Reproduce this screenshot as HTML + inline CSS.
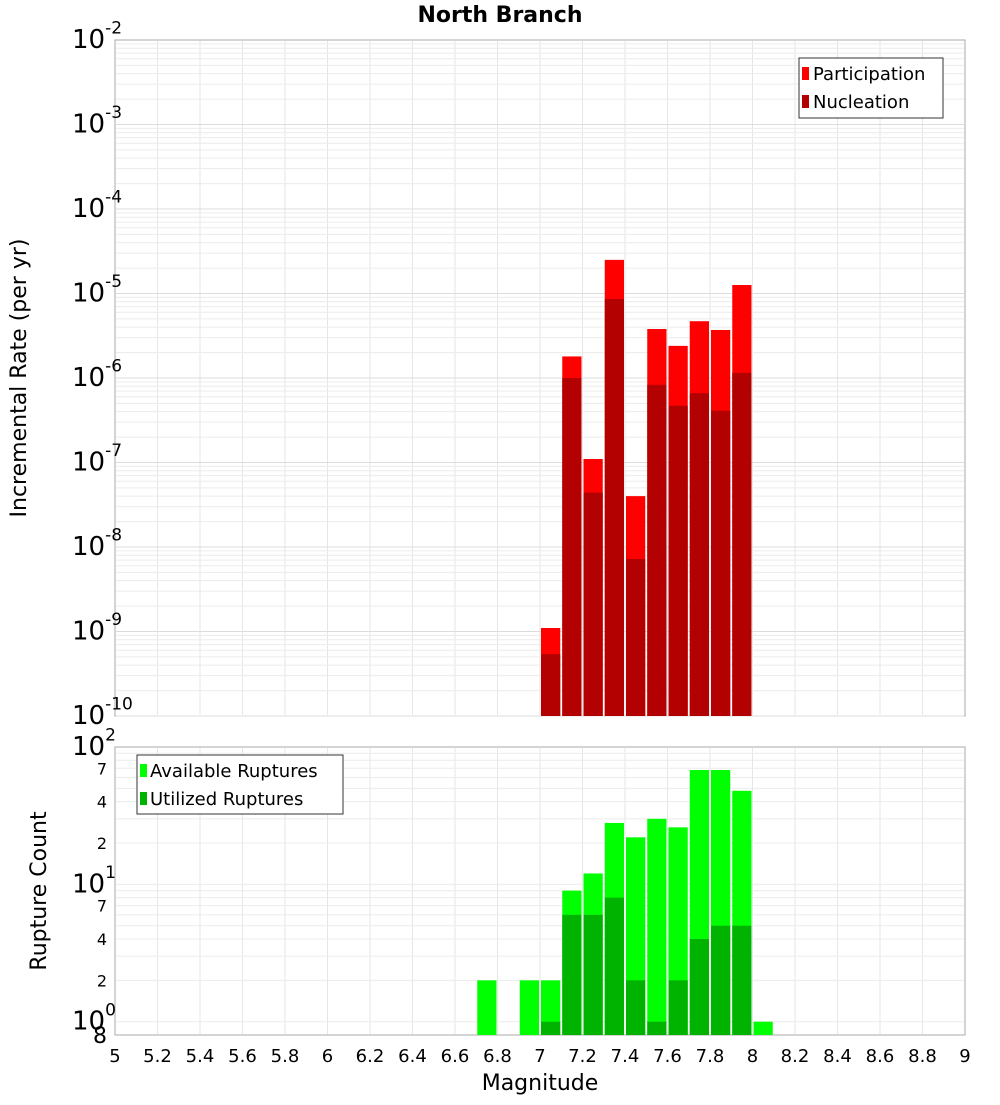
<!DOCTYPE html>
<html><head><meta charset="utf-8"><style>
body{margin:0;background:#fff;}
svg text{font-family:"DejaVu Sans","Liberation Sans",sans-serif;}
</style></head><body>
<svg id="c" width="1000" height="1100" xmlns="http://www.w3.org/2000/svg">
<text x="500" y="22" text-anchor="middle" font-size="22" font-weight="bold">North Branch</text>
<rect x="115" y="40" width="850" height="676" fill="#fff" stroke="#aaa"/>
<rect x="115" y="747" width="850" height="288" fill="#fff" stroke="#aaa"/>
<g id="grid"></g>
<g id="bars"></g>
<g id="axes"></g>
<text transform="translate(26,378) rotate(-90)" text-anchor="middle" font-size="22">Incremental Rate (per yr)</text>
<text transform="translate(46,891) rotate(-90)" text-anchor="middle" font-size="22">Rupture Count</text>
<text x="540" y="1090" text-anchor="middle" font-size="22">Magnitude</text>
<g>
<rect x="799" y="58" width="144" height="60" fill="#fff" stroke="#333"/>
<rect x="802" y="67" width="7" height="13" fill="#ff0000"/>
<text x="813" y="80" font-size="18">Participation</text>
<rect x="802" y="95" width="7" height="13" fill="#b30000"/>
<text x="813" y="108" font-size="18">Nucleation</text>
</g>
<g>
<rect x="137" y="755" width="206" height="59" fill="#fff" stroke="#333"/>
<rect x="140" y="764" width="7" height="13" fill="#00ff00"/>
<text x="150" y="777" font-size="18">Available Ruptures</text>
<rect x="140" y="792" width="7" height="13" fill="#00b300"/>
<text x="150" y="805" font-size="18">Utilized Ruptures</text>
</g>
</svg>
<script>
const mags=[6.75,6.95,7.05,7.15,7.25,7.35,7.45,7.55,7.65,7.75,7.85,7.95,8.05];
const participation=[0,0,1.1e-9,1.8e-6,1.1e-7,2.5e-5,4e-8,3.8e-6,2.4e-6,4.7e-6,3.7e-6,1.26e-5,0];
const nucleation=[0,0,5.4e-10,1.0e-6,4.4e-8,8.6e-6,7.2e-9,8.3e-7,4.7e-7,6.6e-7,4.1e-7,1.15e-6,0];
const available=[2,2,2,9,12,28,22,30,26,68,68,48,1];
const utilized=[0,0,1,6,6,8,2,1,2,4,5,5,0];
const xTicks=[5,5.2,5.4,5.6,5.8,6,6.2,6.4,6.6,6.8,7,7.2,7.4,7.6,7.8,8,8.2,8.4,8.6,8.8,9];
const binWidth=0.1;
const NS="http://www.w3.org/2000/svg";
const X=m=>115+(m-5)*850/4;
const Yt=v=>716-(Math.log10(v)+10)*676/8;
const Yb=v=>1035-(Math.log10(v)-Math.log10(0.8))*288/Math.log10(100/0.8);
function mk(p,tag,a){const e=document.createElementNS(NS,tag);for(const k in a)e.setAttribute(k,a[k]);document.getElementById(p).appendChild(e);return e;}
// grid
for(let m=5.2;m<8.95;m+=0.2){
 let l=mk('grid','line',{x1:X(m),x2:X(m),y1:41,y2:715,stroke:'#e6e6e6'});
 
 
 let l2=mk('grid','line',{x1:X(m),x2:X(m),y1:748,y2:1034,stroke:'#e6e6e6'});
 
 
}
for(let d=-10;d<-2;d++)for(let k=1;k<10;k++){
 const y=Yt(k*Math.pow(10,d));
 let l=mk('grid','line',{x1:116,x2:964,y1:y,y2:y,stroke:k==1?'#dcdcdc':'#ececec'});
 
 
}
for(const base of [1,10])for(let k=1;k<10;k++){
 const y=Yb(k*base);
 let l=mk('grid','line',{x1:116,x2:964,y1:y,y2:y,stroke:'#ececec'});
 
 
}
// bars
mags.forEach((m,i)=>{
 const x0=X(m-binWidth/2)+1,w=X(m+binWidth/2)-X(m-binWidth/2)-2;
 if(participation[i]>0){const y=Yt(participation[i]);let r=mk('bars','rect',{x:x0,y:y,width:w,height:716-y,fill:'#ff0000'});
  
  }
 if(nucleation[i]>0){const y=Yt(nucleation[i]);let r=mk('bars','rect',{x:x0,y:y,width:w,height:716-y,fill:'#b30000'});
  
  }
 if(available[i]>0){const y=Yb(available[i]);let r=mk('bars','rect',{x:x0,y:y,width:w,height:1035-y,fill:'#00ff00'});
  
  }
 if(utilized[i]>0){const y=Yb(utilized[i]);let r=mk('bars','rect',{x:x0,y:y,width:w,height:1035-y,fill:'#00b300'});
  
  }
});
// x ticks
xTicks.forEach(t=>{let e=mk('axes','text',{x:X(t),y:1062,'text-anchor':'middle','font-size':18});e.textContent=String(t);
 
 });
function pow10(g,y,exp,big,sup){
 let e=mk(g,'text',{x:108,y:y,'text-anchor':'end','font-size':big});
 
 
 e.innerHTML='10<tspan dy="-'+(big*0.55)+'" font-size="'+sup+'">'+exp+'</tspan>';
 e.setAttribute('x',72);e.setAttribute('text-anchor','start');
}
for(let d=-10;d<=-2;d++)pow10('axes',Yt(Math.pow(10,d))+8,String(d),26,17);
[1,10,100].forEach((v,i)=>pow10('axes',Yb(v)+8,String(i),26,17));
[2,4,7,20,40,70].forEach(v=>{let e=mk('axes','text',{x:107,y:Yb(v)+6,'text-anchor':'end','font-size':16});e.textContent=String(v%10==0?v/10:v);
 
 });
let e8=mk('axes','text',{x:107,y:1043,'text-anchor':'end','font-size':22});e8.textContent='8';


</script>
</body></html>
